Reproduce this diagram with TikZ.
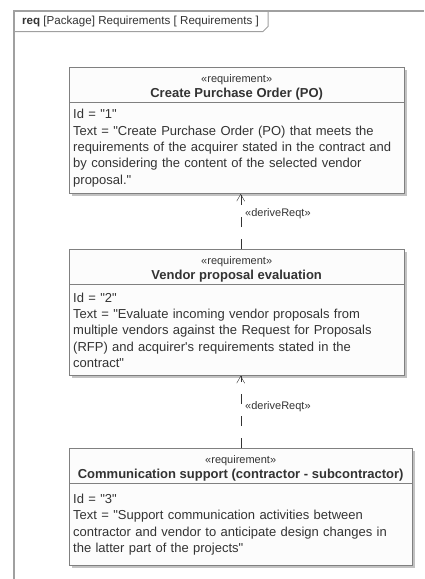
\documentclass[tikz,border=0pt]{standalone}
\usepackage{fontspec}
\setmainfont{Liberation Sans}[Ligatures=TeXOff]
\usetikzlibrary{arrows.meta,shadows}
\definecolor{myframecolor}{HTML}{A0A0A0}
\definecolor{myboxcolor}{HTML}{808080}
\definecolor{myfillcolor}{HTML}{FCFCFC}
\definecolor{mytextcolor}{HTML}{333333}

\tikzset{%
  reqhead/.style={draw=myboxcolor, fill=myfillcolor, rectangle, anchor=north west,
    minimum width=#1, minimum height=35pt, inner sep=0pt, align=center, text=mytextcolor,
    drop shadow={shadow xshift=2.5pt, shadow yshift=-2.5pt, fill=black!40, opacity=0.6}},
  reqbody/.style={draw=myboxcolor, fill=myfillcolor, rectangle, anchor=north west,
    text width=#1, inner xsep=4pt, inner ysep=3pt, align=left, text=mytextcolor,
    font=\fontsize{13pt}{16.3pt}\selectfont,
    drop shadow={shadow xshift=2.5pt, shadow yshift=-2.5pt, fill=black!40, opacity=0.6}},
  derive/.style={draw=mytextcolor, dash pattern=on 10pt off 12pt, -{Straight Barb[length=7pt, width=8pt]}},
  derivelabel/.style={anchor=west, inner sep=0pt, text=mytextcolor, font=\fontsize{11pt}{13pt}\selectfont},
  frameline/.style={draw=myframecolor, line width=1.5pt}
}
\newcommand{\reqstereo}{{\fontsize{11pt}{13pt}\selectfont\rule{0pt}{14pt}«requirement»}}
\newcommand{\reqname}[1]{{\fontsize{13pt}{16pt}\selectfont\bfseries #1}}

\begin{document}
\begin{tikzpicture}[x=1pt, y=-1pt]%
\useasboundingbox (0,0) rectangle (424,579);%
% diagram frame
\draw[frameline] (14,579) -- (14,11) -- (424,11);%
\draw[frameline, line width=1pt] (14,31.5) -- (263,31.5) -- (268,26.5) -- (268,11);%
\node[anchor=west, inner sep=0pt, text=mytextcolor, font=\fontsize{11.6pt}{14pt}\selectfont] (title) at (22,21) {\textbf{req} [Package] Requirements [ Requirements ]};%
% requirement 1
\node[reqhead=335pt] (po) at (69,67) {\reqstereo\\[3pt]\reqname{Create Purchase Order (PO)}};%
\node[reqbody=327pt, minimum height=91pt] (pobody) at (po.south west) {Id = "1"\\Text = "Create Purchase Order (PO) that meets the\\requirements of the acquirer stated in the contract and\\by considering the content of the selected vendor\\proposal."};%
% requirement 2
\node[reqhead=335pt] (vendor) at (69,249) {\reqstereo\\[3pt]\reqname{Vendor proposal evaluation}};%
\node[reqbody=327pt, minimum height=91pt] (vendorbody) at (vendor.south west) {Id = "2"\\Text = "Evaluate incoming vendor proposals from\\multiple vendors against the Request for Proposals\\(RFP) and acquirer's requirements stated in the\\contract"};%
% requirement 3
\node[reqhead=343pt] (comm) at (69,448) {\reqstereo\\[3pt]\reqname{Communication support (contractor - subcontractor)}};%
\node[reqbody=335pt, minimum height=82pt] (commbody) at (comm.south west) {Id = "3"\\Text = "Support communication activities between\\contractor and vendor to anticipate design changes in\\the latter part of the projects"};%
% deriveReqt relations
\draw[derive] (vendor.north -| comm.north) -- (pobody.south -| comm.north);%
\draw[derive] (comm.north) -- (vendorbody.south -| comm.north);%
\node[derivelabel] (derivea) at (245,214) {«deriveReqt»};%
\node[derivelabel] (deriveb) at (245,407) {«deriveReqt»};%
\end{tikzpicture}
\end{document}
